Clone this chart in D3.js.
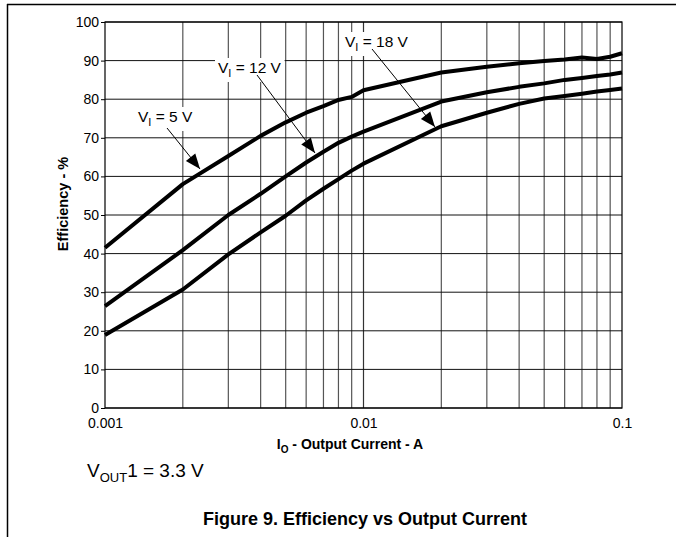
<!DOCTYPE html>
<html>
<head>
<meta charset="utf-8">
<script src="https://cdn.jsdelivr.net/npm/d3@7"></script>
<style>
  body { margin: 0; background: #fff; }
  text { font-family: Arial, "Liberation Sans", sans-serif; }
</style>
</head>
<body>
<svg width="676" height="537"></svg>
<script>
var current = [0.001, 0.002, 0.003, 0.004, 0.005, 0.006, 0.007, 0.008, 0.009, 0.01,
               0.02, 0.03, 0.04, 0.05, 0.06, 0.07, 0.08, 0.09, 0.1];
var eff5V  = [41.5, 58, 65.3, 70.5, 74, 76.5, 78.2, 79.8, 80.6, 82.3,
              86.9, 88.4, 89.3, 89.9, 90.3, 90.8, 90.4, 91, 91.9];
var eff12V = [26.4, 40.9, 50, 55.5, 60, 63.6, 66.4, 68.7, 70.3, 71.6,
              79.4, 81.8, 83.2, 84.1, 85, 85.5, 86, 86.4, 86.9];
var eff18V = [18.9, 30.7, 39.8, 45.5, 49.8, 53.8, 56.8, 59.3, 61.5, 63.3,
              73, 76.5, 78.8, 80.2, 80.8, 81.4, 82, 82.4, 82.8];
var yTicks = [0, 10, 20, 30, 40, 50, 60, 70, 80, 90, 100];
var xTicks = [0.001, 0.01, 0.1];
var xTickLabels = ["0.001", "0.01", "0.1"];

var svg = d3.select("svg");
var plotL = 105, plotR = 622, plotT = 22, plotB = 408;

var x = d3.scaleLog().domain([0.001, 0.1]).range([plotL, plotR]);
var y = d3.scaleLinear().domain([0, 100]).range([plotB, plotT]);

// page frame
svg.append("line").attr("x1", 7).attr("x2", 676).attr("y1", 4.5).attr("y2", 4.5)
    .attr("stroke", "#000").attr("stroke-width", 1.5);
svg.append("line").attr("x1", 7.5).attr("x2", 7.5).attr("y1", 4).attr("y2", 537)
    .attr("stroke", "#000").attr("stroke-width", 1.5);

// vertical grid (log minor lines)
var minor = [];
[0.001, 0.01].forEach(function(d) {
    for (var k = 2; k <= 9; k++) minor.push(d * k);
});
svg.append("g").selectAll("line")
    .data(minor)
    .enter().append("line")
    .attr("x1", function(d) { return x(d); })
    .attr("x2", function(d) { return x(d); })
    .attr("y1", plotT).attr("y2", plotB)
    .attr("stroke", "#555").attr("stroke-width", 1.2);
svg.append("line").attr("x1", x(0.01)).attr("x2", x(0.01))
    .attr("y1", plotT).attr("y2", plotB)
    .attr("stroke", "#333").attr("stroke-width", 1.2);

// horizontal grid
svg.append("g").selectAll("line")
    .data(yTicks)
    .enter().append("line")
    .attr("x1", plotL).attr("x2", plotR)
    .attr("y1", function(d) { return y(d); })
    .attr("y2", function(d) { return y(d); })
    .attr("stroke", "#111").attr("stroke-width", 1);

// frame
svg.append("rect").attr("x", plotL).attr("y", plotT)
    .attr("width", plotR - plotL).attr("height", plotB - plotT)
    .attr("fill", "none").attr("stroke", "#000").attr("stroke-width", 1.2);

// y axis
var yAxis = svg.append("g")
    .attr("transform", "translate(" + plotL + ",0)")
    .call(d3.axisLeft(y).tickValues(yTicks).tickSize(4).tickPadding(2));
yAxis.select(".domain").remove();
yAxis.selectAll("text").style("font-size", "14px").attr("fill", "#000")
    .style("font-family", "Arial, 'Liberation Sans', sans-serif");

// x axis
var xAxis = svg.append("g")
    .attr("transform", "translate(0," + plotB + ")")
    .call(d3.axisBottom(x).tickValues(xTicks).tickSize(0).tickPadding(10)
        .tickFormat(function(d, i) { return xTickLabels[i]; }));
xAxis.select(".domain").remove();
xAxis.selectAll("text").style("font-size", "14px").attr("fill", "#000")
    .style("font-family", "Arial, 'Liberation Sans', sans-serif");

// curves
var line = d3.line()
    .x(function(d) { return x(d[0]); })
    .y(function(d) { return y(d[1]); });

[eff5V, eff12V, eff18V].forEach(function(s) {
    svg.append("path")
        .datum(current.map(function(c, i) { return [c, s[i]]; }))
        .attr("d", line)
        .attr("fill", "none")
        .attr("stroke", "#000")
        .attr("stroke-width", 4)
        .attr("stroke-linejoin", "round");
});

// annotations
function label(tx, ty, volts) {
    var bb = svg.append("rect").attr("fill", "#fff");
    var t = svg.append("text").attr("x", tx).attr("y", ty)
        .style("font-size", "15.5px").attr("fill", "#000");
    t.append("tspan").text("V");
    t.append("tspan").text("I").attr("dy", 4).style("font-size", "11px");
    t.append("tspan").text(" = " + volts + " V").attr("dy", -4);
    var b = t.node().getBBox();
    bb.attr("x", b.x - 3).attr("y", b.y - 1).attr("width", b.width + 6).attr("height", b.height + 4);
}

function arrow(x1, y1, x2, y2) {
    svg.append("line").attr("x1", x1).attr("y1", y1).attr("x2", x2).attr("y2", y2)
        .attr("stroke", "#000").attr("stroke-width", 1);
    var a = Math.atan2(y2 - y1, x2 - x1), L = 15, W = 6;
    var bx = x2 - L * Math.cos(a), by = y2 - L * Math.sin(a);
    var px = -Math.sin(a) * W, py = Math.cos(a) * W;
    svg.append("path")
        .attr("d", "M" + x2 + "," + y2 + "L" + (bx + px) + "," + (by + py) +
            "L" + (bx - px) + "," + (by - py) + "Z")
        .attr("fill", "#000");
}

label(138, 122, 5);
arrow(167, 128, 200, 169);
label(218, 73, 12);
arrow(257, 75, 315, 153);
label(345, 47, 18);
arrow(372, 49, 435, 127);

// axis titles
var xt = svg.append("text").attr("x", 350).attr("y", 449)
    .attr("text-anchor", "middle").style("font-size", "14px").style("font-weight", "bold");
xt.append("tspan").text("I");
xt.append("tspan").text("O").attr("dy", 4).style("font-size", "10px");
xt.append("tspan").text(" - Output Current - A").attr("dy", -4);

svg.append("text")
    .attr("transform", "translate(68,204) rotate(-90)")
    .attr("text-anchor", "middle")
    .style("font-size", "14.5px").style("font-weight", "bold")
    .text("Efficiency - %");

// condition note
var vt = svg.append("text").attr("x", 87).attr("y", 477).style("font-size", "19px");
vt.append("tspan").text("V");
vt.append("tspan").text("OUT").attr("dy", 5).style("font-size", "13px");
vt.append("tspan").text("1 = 3.3 V").attr("dy", -5);

// caption
svg.append("text").attr("x", 365).attr("y", 525)
    .attr("text-anchor", "middle")
    .style("font-size", "18px").style("font-weight", "bold")
    .text("Figure 9. Efficiency vs Output Current");
</script>
</body>
</html>
